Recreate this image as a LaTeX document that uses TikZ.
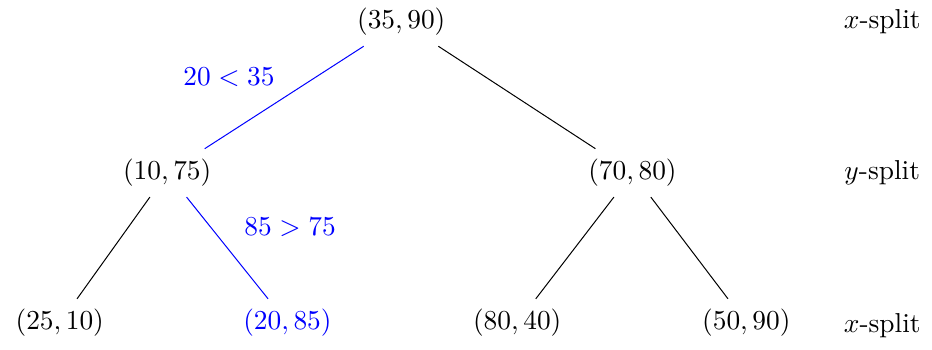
\documentclass[tikz,border=0pt,11pt]{standalone}
\usepackage{amsmath}
\usetikzlibrary{positioning}
\tikzset{
    kd tree/.style  = {line width=0.4pt},
    point/.style    = {inner sep=4pt},
    hit/.style      = {point, text=blue},
    edge/.style     = {black},
    path/.style     = {blue},
    test/.style     = {text=blue},
    split/.style    = {inner sep=2pt}
}

\begin{document}
\begin{tikzpicture}[kd tree]
\useasboundingbox (0,0) rectangle (13.10,-4.91);

% ================= Points =================
\node[point] (R)  at ( 5.64,-0.31) {$(35,90)$};
\node[point] (A)  at ( 2.35,-2.43) {$(10,75)$};
\node[point] (B)  at ( 8.89,-2.43) {$(70,80)$};
\node[point] (AA) at ( 0.84,-4.54) {$(25,10)$};
\node[hit]   (AB) at ( 4.04,-4.54) {$(20,85)$};
\node[point] (BA) at ( 7.27,-4.54) {$(80,40)$};
\node[point] (BB) at (10.49,-4.54) {$(50,90)$};

% ================= Tree edges =================
\draw[path] (R) -- (A)
    node[midway, above left, test, xshift=0pt, yshift=0.5pt] {$20 < 35$};
\draw[edge] (R) -- (B);
\draw[edge] (A) -- (AA);
\draw[path] (A) -- (AB)
    node[midway, above right, test, xshift=3pt, yshift=0.5pt] {$85 > 75$};
\draw[edge] (B) -- (BA);
\draw[edge] (B) -- (BB);

% ================= Split directions =================
\node[split] (S0) at (12.40,-0.31) {$x$-split};
\node[split] (S1) at (12.40,-2.43) {$y$-split};
\node[split] (S2) at (12.40,-4.58) {$x$-split};

\end{tikzpicture}
\end{document}
